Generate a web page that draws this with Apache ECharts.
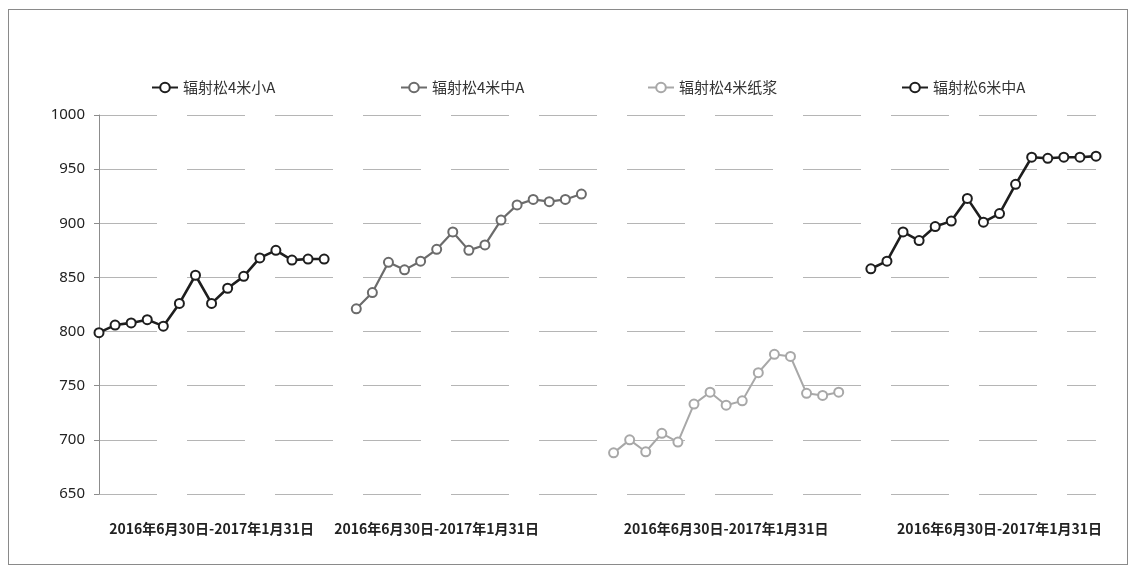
<!DOCTYPE html>
<html>
<head>
<meta charset="utf-8">
<script src="https://cdn.jsdelivr.net/npm/echarts@6/dist/echarts.min.js"></script>
<style>
  html, body { margin: 0; padding: 0; background: #fff; }
  #frame { position: absolute; left: 8px; top: 9px; width: 1118px; height: 554px; border: 1px solid #8a8a8a; }
  #chart { position: absolute; left: 0; top: 0; width: 1133px; height: 571px; }
</style>
</head>
<body>
<div id="frame"></div>
<div id="chart"></div>
<script>
// 四个品种，各 15 个观测点（2016/6/30 - 2017/1/31）
const seriesNames = ['辐射松4米小A', '辐射松4米中A', '辐射松4米纸浆', '辐射松6米中A']
const pine4Small = [799, 806, 808, 811, 805, 826, 852, 826, 840, 851, 868, 875, 866, 867, 867]
const pine4Mid = [821, 836, 864, 857, 865, 876, 892, 875, 880, 903, 917, 922, 920, 922, 927]
const pine4Pulp = [688, 700, 689, 706, 698, 733, 744, 732, 736, 762, 779, 777, 743, 741, 744]
const pine6Mid = [858, 865, 892, 884, 897, 902, 923, 901, 909, 936, 961, 960, 961, 961, 962]

// x 轴：每组 15 点，组间空 1 格
const periodLabel = '2016年6月30日-2017年1月31日'
const groupStarts = [0, 16, 32, 48]
const labelSlots = [7, 21, 39, 56]
const totalSlots = 63

const yTicks = { min: 650, max: 1000, step: 50 }

const categories = Array.from({ length: totalSlots }, (_, i) => labelSlots.includes(i) ? periodLabel : '')

function placeGroup(values, start) {
  const arr = new Array(totalSlots).fill(null)
  values.forEach((v, i) => { arr[start + i] = v })
  return arr
}

const colors = ['#1e1e1e', '#6b6b6b', '#a8a8a8', '#1e1e1e']
const widths = [2.6, 2.2, 2, 2.6]
const allValues = [pine4Small, pine4Mid, pine4Pulp, pine6Mid]

const chart = echarts.init(document.getElementById('chart'))

const legendLefts = [146, 395, 642, 896]
const legends = seriesNames.map((name, i) => ({
  data: [name],
  left: legendLefts[i],
  top: 75,
  itemWidth: 26,
  itemHeight: 12,
  itemGap: 4,
  textStyle: { color: '#333', fontSize: 15, fontFamily: 'Noto Sans CJK SC' },
}))

chart.setOption({
  animation: false,
  legend: legends,
  grid: { left: 99, right: 37, top: 115, bottom: 77 },
  xAxis: {
    type: 'category',
    data: categories,
    boundaryGap: false,
    axisLine: { show: false },
    axisTick: { show: false },
    splitLine: { show: false },
    axisLabel: {
      interval: 0,
      margin: 28,
      color: '#222',
      fontSize: 14,
      fontWeight: 'bold',
      fontFamily: 'Noto Sans CJK SC',
    },
  },
  yAxis: {
    type: 'value',
    min: yTicks.min,
    max: yTicks.max,
    interval: yTicks.step,
    axisLine: { show: true, lineStyle: { color: '#8c8c8c', width: 1 } },
    axisTick: { show: true, length: 5, lineStyle: { color: '#8c8c8c' } },
    axisLabel: { color: '#222', fontSize: 15, margin: 14, fontFamily: 'Noto Sans', formatter: v => String(v) },
    splitLine: { lineStyle: { color: '#b5b5b5', width: 1.2, type: [58, 30] } },
  },
  series: allValues.map((vals, i) => ({
    name: seriesNames[i],
    type: 'line',
    data: placeGroup(vals, groupStarts[i]),
    connectNulls: false,
    showSymbol: true,
    showAllSymbol: true,
    symbol: 'circle',
    symbolSize: 9,
    lineStyle: { color: colors[i], width: widths[i] },
    itemStyle: { color: '#fff', borderColor: colors[i], borderWidth: 2 },
  })),
})
</script>
</body>
</html>
